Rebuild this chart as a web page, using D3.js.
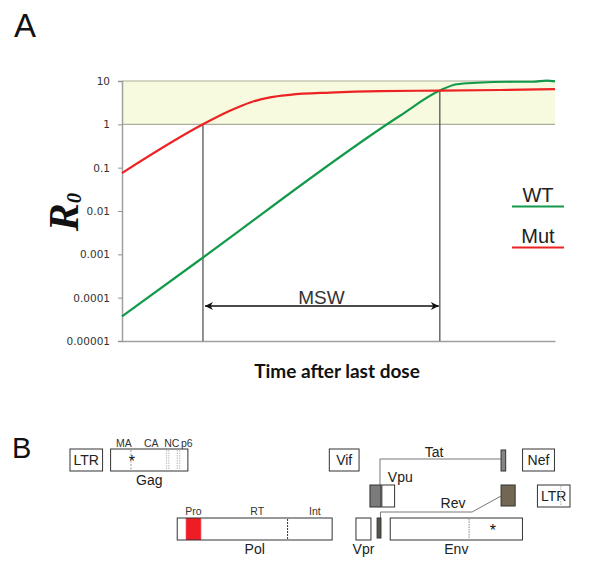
<!DOCTYPE html>
<html><head><meta charset="utf-8">
<script src="https://cdn.jsdelivr.net/npm/d3@7"></script>
<style>
html,body{margin:0;padding:0;background:#fff;}
svg{display:block;}
</style></head>
<body>
<svg id="chart" width="601" height="578"></svg>
<script>
// ---------- Panel A data ----------
const yTicks = [1e-5, 1e-4, 1e-3, 1e-2, 1e-1, 1, 10];
const yTickLabels = ["0.00001", "0.0001", "0.001", "0.01", "0.1", "1", "10"];
const tMut = [0, 18.7, 24.9, 29.6, 34.2, 38.8, 48, 59.6, 73.4, 87.3, 100];
const mutR0 = [0.075, 1.0, 2.05, 3.2, 4.2, 4.8, 5.4, 5.85, 6.0, 6.2, 6.5];
const tWT = [0, 18.0, 64.2, 73.4, 77.3, 81.9, 90.3, 94.9, 98.1, 100];
const wtR0 = [3.7e-5, 7.5e-4, 1.58, 6.0, 8.4, 9.1, 9.6, 9.6, 10.2, 9.8];
const seriesNames = ["WT", "Mut"];
const seriesColors = ["#129a4a", "#ec2224"];
const bandRange = [1, 10];
const mswBounds = [18.7, 73.4];      // time where Mut reaches 1, time where WT crosses Mut
const mswTopValues = [1, 6.0];

// ---------- Panel B data (HXB2 nucleotide coordinates) ----------
const genomeLength = [1, 9719];
const geneNames = ["LTR", "Gag", "Vif", "Nef", "Pol", "Vpr", "Vpu", "Env", "LTR"];
const geneStart = [1, 790, 5041, 8797, 2085, 5559, 6062, 6225, 9086];
const geneEnd = [634, 2292, 5619, 9417, 5096, 5850, 6310, 8795, 9719];
const geneFrame = [0, 0, 0, 0, 2, 2, 1, 2, 1];
const gagDomains = ["MA", "CA", "NC", "p6"];
const gagDomainCenters = [1050, 1580, 1980, 2270];
const gagDashed = [1186];
const gagDotted = [1879, 1921, 2086, 2134];
const polDomains = ["Pro", "RT", "Int"];
const polDomainCenters = [2400, 3640, 4760];
const proteaseRange = [2253, 2549];
const rtIntBoundary = [4230];
const envBoundary = [7758];
const ltrBoundary = [9541];
const mutationSites = [1205, 8222];
const tatExons = [[5831, 6045], [8379, 8469]];
const revExons = [[5970, 6045], [8379, 8653]];

const svg = d3.select("#chart");
const ff = "'Liberation Sans', Arial, sans-serif";

// ---------- Panel A ----------
const x = d3.scaleLinear().domain([0, 100]).range([122, 555]);
const y = d3.scaleLog().domain([1e-5, 10]).range([341, 81]);
const gA = svg.append("g");

gA.append("text").attr("x", 14).attr("y", 37).attr("font-family", ff)
  .attr("font-size", 33).attr("fill", "#111").text("A");

// band
gA.append("rect").attr("x", x(0)).attr("y", y(bandRange[1]))
  .attr("width", x(100) - x(0)).attr("height", y(bandRange[0]) - y(bandRange[1]))
  .attr("fill", "#f7fadf");
bandRange.forEach(v => {
  gA.append("line").attr("x1", x(0)).attr("x2", x(100)).attr("y1", y(v)).attr("y2", y(v))
    .attr("stroke", "#a9ae98").attr("stroke-width", 1.2);
});

// axes
const yAxis = d3.axisLeft(y).tickValues(yTicks)
  .tickFormat((d, i) => yTickLabels[i]).tickSize(4).tickPadding(8);
const ya = gA.append("g").attr("transform", `translate(${x(0)},0)`).call(yAxis);
ya.select(".domain").attr("stroke", "#a0a0a0").attr("stroke-width", 1.5);
ya.selectAll(".tick line").attr("stroke", "#909090");
ya.selectAll(".tick text").attr("font-family", "'DejaVu Sans', Verdana, sans-serif")
  .attr("font-size", 10.5).attr("fill", "#333");
const xAxis = d3.axisBottom(x).tickValues([]).tickSizeOuter(0);
const xa = gA.append("g").attr("transform", `translate(0,${y(1e-5)})`).call(xAxis);
xa.select(".domain").attr("stroke", "#a0a0a0").attr("stroke-width", 1.5);

// vertical markers
mswBounds.forEach((t, i) => {
  gA.append("line").attr("x1", x(t)).attr("x2", x(t))
    .attr("y1", y(mswTopValues[i])).attr("y2", y(1e-5))
    .attr("stroke", "#555").attr("stroke-width", 1.3);
});

// curves
const line = d3.line().curve(d3.curveMonotoneX);
const wtPts = tWT.map((t, i) => [x(t), y(wtR0[i])]);
const mutPts = tMut.map((t, i) => [x(t), y(mutR0[i])]);
gA.append("path").attr("d", line(wtPts)).attr("fill", "none")
  .attr("stroke", seriesColors[0]).attr("stroke-width", 2.2);
gA.append("path").attr("d", line(mutPts)).attr("fill", "none")
  .attr("stroke", seriesColors[1]).attr("stroke-width", 2.2);

// MSW arrow
const defs = svg.append("defs");
["s", "e"].forEach(k => {
  defs.append("marker").attr("id", "arr" + k).attr("viewBox", "0 0 10 10")
    .attr("refX", k === "e" ? 10 : 0).attr("refY", 5)
    .attr("markerWidth", 9).attr("markerHeight", 8).attr("markerUnits", "userSpaceOnUse")
    .attr("orient", "auto")
    .append("path").attr("d", k === "e" ? "M0,0 L10,5 L0,10 L3,5 Z" : "M10,0 L0,5 L10,10 L7,5 Z")
    .attr("fill", "#111");
});
const arrowY = y(1e-5) - 35;
gA.append("line").attr("x1", x(mswBounds[0]) + 2).attr("x2", x(mswBounds[1]) - 1)
  .attr("y1", arrowY).attr("y2", arrowY).attr("stroke", "#111").attr("stroke-width", 1.3)
  .attr("marker-start", "url(#arrs)").attr("marker-end", "url(#arre)");
gA.append("text").attr("x", (x(mswBounds[0]) + x(mswBounds[1])) / 2).attr("y", arrowY - 2)
  .attr("text-anchor", "middle").attr("font-family", ff).attr("font-size", 19)
  .attr("fill", "#333").text("MSW");

// axis titles
gA.append("text").attr("x", 337).attr("y", 378).attr("text-anchor", "middle")
  .attr("font-family", "Lato, 'Open Sans', sans-serif").attr("font-weight", "bold")
  .attr("font-size", 19).attr("fill", "#111").text("Time after last dose");
const r0 = gA.append("text").attr("transform", "translate(78,212) rotate(-90)")
  .attr("text-anchor", "middle").attr("font-family", "'Liberation Serif', 'DejaVu Serif', serif")
  .attr("font-style", "italic").attr("font-weight", "bold").attr("fill", "#111");
r0.append("tspan").attr("font-size", 42).text("R");
r0.append("tspan").attr("font-size", 21).attr("dy", 3).text("0");

// legend
const legY = [202, 243];
seriesNames.forEach((n, i) => {
  gA.append("text").attr("x", 538).attr("y", legY[i]).attr("text-anchor", "middle")
    .attr("font-family", ff).attr("font-size", 20).attr("fill", "#222").text(n);
  gA.append("line").attr("x1", 512).attr("x2", 564).attr("y1", legY[i] + 4.5).attr("y2", legY[i] + 4.5)
    .attr("stroke", seriesColors[i]).attr("stroke-width", 2.2);
});

// ---------- Panel B ----------
const gx = d3.scaleLinear().domain(genomeLength).range([70, 570]);
const rowTop = [449, 485, 518];
const rowH = 22;
const gB = svg.append("g");
gB.append("text").attr("x", 12).attr("y", 458).attr("font-family", ff)
  .attr("font-size", 29).attr("fill", "#111").text("B");

const stroke = "#333";
function vline(xp, y1, y2, col, dash) {
  gB.append("line").attr("x1", xp).attr("x2", xp).attr("y1", y1).attr("y2", y2)
    .attr("stroke", col).attr("stroke-width", 1).attr("stroke-dasharray", dash);
}

// protease fill first
gB.append("rect").attr("x", gx(proteaseRange[0])).attr("y", rowTop[2])
  .attr("width", gx(proteaseRange[1]) - gx(proteaseRange[0])).attr("height", rowH)
  .attr("fill", "#ee1c24");

// genes
geneNames.forEach((n, i) => {
  const x0 = gx(geneStart[i]), x1 = gx(geneEnd[i]), yt = rowTop[geneFrame[i]];
  gB.append("rect").attr("x", x0).attr("y", yt).attr("width", x1 - x0).attr("height", rowH)
    .attr("fill", n === "Pol" ? "none" : "#fff").attr("stroke", stroke).attr("stroke-width", 1);
  let lx = (x0 + x1) / 2, ly, anchor = "middle";
  if (["LTR", "Vif", "Nef"].includes(n)) ly = yt + 16;
  else if (n === "Vpu") { lx = x0 + 6; ly = yt - 3; anchor = "start"; }
  else if (n === "Vpr") ly = yt + rowH + 14;
  else ly = yt + rowH + 14;
  gB.append("text").attr("x", lx).attr("y", ly).attr("text-anchor", anchor)
    .attr("font-family", ff).attr("font-size", 14).attr("fill", "#222").text(n);
});

// gag sub-domains
gagDashed.forEach(p => vline(gx(p), rowTop[0] + 1, rowTop[0] + rowH - 1, "#999", "2,1.5"));
gagDotted.forEach(p => vline(gx(p), rowTop[0] + 1, rowTop[0] + rowH - 1, "#bbb", "1.5,1"));
gagDomains.forEach((d, i) => {
  gB.append("text").attr("x", gx(gagDomainCenters[i])).attr("y", rowTop[0] - 2)
    .attr("text-anchor", "middle").attr("font-family", ff).attr("font-size", 10.5)
    .attr("fill", "#333").text(d);
});
// pol sub-domains
proteaseRange.forEach(p => vline(gx(p), rowTop[2] + 1, rowTop[2] + rowH - 1, "#f99", "1.5,1"));
rtIntBoundary.forEach(p => vline(gx(p), rowTop[2] + 1, rowTop[2] + rowH - 1, "#333", "2,1"));
polDomains.forEach((d, i) => {
  gB.append("text").attr("x", gx(polDomainCenters[i])).attr("y", rowTop[2] - 3)
    .attr("text-anchor", "middle").attr("font-family", ff).attr("font-size", 10.5)
    .attr("fill", "#333").text(d);
});
envBoundary.forEach(p => vline(gx(p), rowTop[2] + 1, rowTop[2] + rowH - 1, "#888", "1.5,1"));
ltrBoundary.forEach(p => vline(gx(p), rowTop[1] + 1, rowTop[1] + rowH - 1, "#aaa", "1.5,1"));

// mutation stars
mutationSites.forEach((p, i) => {
  gB.append("text").attr("x", gx(p)).attr("y", (i === 0 ? rowTop[0] : rowTop[2]) + 18)
    .attr("text-anchor", "middle").attr("font-family", ff).attr("font-size", 16)
    .attr("fill", "#111").text("*");
});

// Tat exons and splice line
const tat1x1 = gx(tatExons[0][1]);
gB.append("path").attr("d", `M${tat1x1 - 1},${rowTop[1]} V${rowTop[0] + 10} H${gx(tatExons[1][0])}`)
  .attr("fill", "none").attr("stroke", "#777").attr("stroke-width", 1);
gB.append("rect").attr("x", gx(tatExons[0][0])).attr("y", rowTop[1])
  .attr("width", gx(tatExons[0][1]) - gx(tatExons[0][0])).attr("height", rowH)
  .attr("fill", "#7b7b7b").attr("stroke", stroke);
gB.append("rect").attr("x", gx(tatExons[1][0])).attr("y", rowTop[0] + 1)
  .attr("width", gx(tatExons[1][1]) - gx(tatExons[1][0])).attr("height", rowH - 1)
  .attr("fill", "#858585").attr("stroke", stroke);
gB.append("text").attr("x", 434).attr("y", rowTop[0] + 8).attr("text-anchor", "middle")
  .attr("font-family", ff).attr("font-size", 14).attr("fill", "#222").text("Tat");

// Rev exons and splice line
const rev1x = gx(revExons[0][1]);
const rev2x = gx(revExons[1][0]);
gB.append("path").attr("d", `M${rev1x - 0.5},${rowTop[2]} V${rowTop[2] - 6} H${rev2x - 29} L${rev2x},${rowTop[1] + 11}`)
  .attr("fill", "none").attr("stroke", "#777").attr("stroke-width", 1);
gB.append("rect").attr("x", gx(revExons[0][0])).attr("y", rowTop[2])
  .attr("width", gx(revExons[0][1]) - gx(revExons[0][0])).attr("height", rowH - 2)
  .attr("fill", "#55554d").attr("stroke", stroke);
gB.append("rect").attr("x", rev2x).attr("y", rowTop[1])
  .attr("width", gx(revExons[1][1]) - rev2x).attr("height", rowH - 1)
  .attr("fill", "#716752").attr("stroke", stroke);
gB.append("text").attr("x", 453).attr("y", rowTop[2] - 10).attr("text-anchor", "middle")
  .attr("font-family", ff).attr("font-size", 14).attr("fill", "#222").text("Rev");
</script>
</body></html>
